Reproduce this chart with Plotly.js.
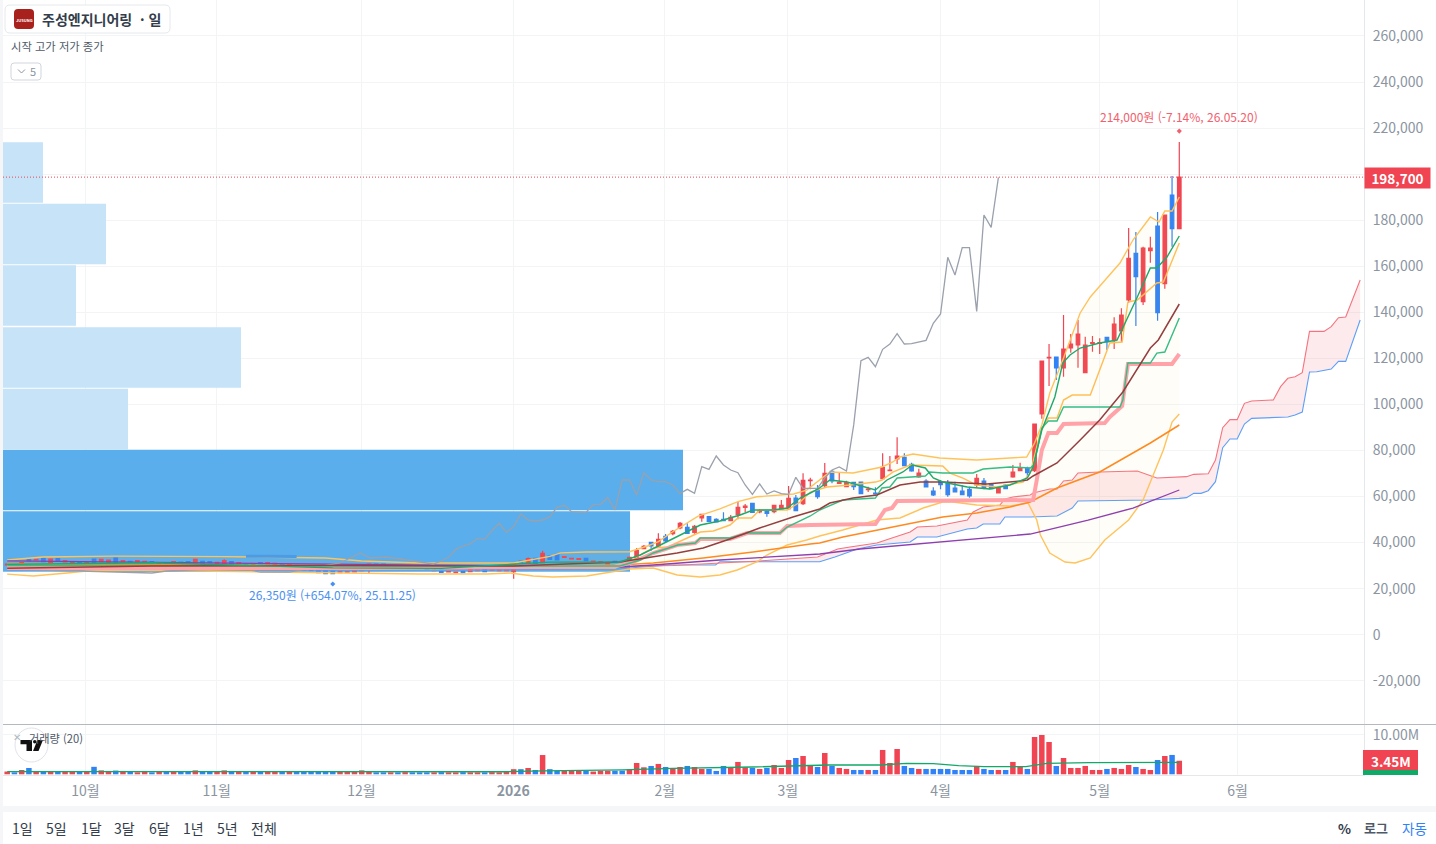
<!DOCTYPE html>
<html lang="ko">
<head>
<meta charset="utf-8">
<title>주성엔지니어링 · 일</title>
<script src="https://cdn.plot.ly/plotly-3.0.1.min.js"></script>
<style>html,body{margin:0;padding:0;background:#f5f6f8;overflow:hidden}#chart{width:1436px;height:844px}</style>
</head>
<body>
<div id="chart"></div>
<script>
// ---------- candles (index 0 = 2025-09, index 162 = 26.05.20), KRW ----------
const openPrices = [
30240,30680,30240,32850,32410,33280,31260,32990,31550,30680,
31550,31260,32850,31690,30970,33280,31550,31830,31830,31550,
31690,30390,31110,30970,31550,31690,30970,31830,31690,30680,
30970,31690,30680,30680,29520,31260,30680,30100,30680,30100,
30100,29520,29230,28070,27780,27640,26910,27060,27200,27780,
30100,30680,30680,29810,29810,29230,29520,29230,28940,27780,
28070,27200,26910,27780,27350,27780,28360,27930,27780,27780,
27350,31980,30970,33140,31260,34150,34870,33570,32850,32700,
33140,31690,31400,30240,31830,31830,
31700,32710,37340,40090,38500,42700,43860,46320,46610,44440,
50660,51240,50080,50080,49500,52110,55290,57030,53270,53700,
53410,54420,54720,59350,56890,66870,62820,
64700,70930,65720,64270,66150,66300,62970,61520,67740,71220,76290,77010,73970,68470,66730,62390,66440,66010,63690,62390,63110,64990,66730,65430,61520,64990,68470,71220,
72380,71220,95830,120150,120580,115810,124490,125800,113780,126520,126520,129130,127680,131880,145340,165600,144610,166760,177480,152430,190940,176320];
const closePrices = [
30680,30390,31260,32120,32700,31690,32850,31980,32120,31690,
30680,31550,31260,32700,32410,30970,32120,31400,32120,31830,
31260,31260,30240,31690,31260,31260,32700,30970,31260,31400,
32120,30240,31260,29520,30680,30680,31260,30970,29810,30390,
28940,28070,27780,26910,26480,26480,27350,27350,27780,30100,
30680,30240,29520,30100,29520,29520,29230,28940,28070,28070,
27060,27490,27200,26910,28360,28070,27350,28070,28070,28070,
30680,31260,32990,30970,35310,32700,32410,33860,33140,32990,
32120,31980,31690,31260,31550,31550,
33580,36470,38350,38500,41400,40670,44870,48340,44000,47040,
52250,49210,48920,49500,50950,55290,55870,53120,53700,52690,
56160,56160,59200,53850,67020,67170,59930,
70060,66730,66150,66010,64270,61230,63250,61080,72670,71510,77590,73390,71070,70200,64120,60650,65140,60800,61950,60800,60220,67890,63550,63400,63840,63400,70640,72520,
70350,91490,118850,120440,115810,124060,126230,130570,125800,126810,126810,127240,134920,138830,163430,155470,167920,167920,139840,182250,176320,198700];
const highPrices = [
30900,30900,31500,33000,32850,33500,33000,33300,32300,31900,
31700,31700,33000,32900,32600,33500,32300,32000,32300,32000,
31850,31500,31300,31900,31700,31850,32900,32000,31850,31600,
32700,31850,31450,30850,30850,31450,31450,31150,30850,30550,
30300,29700,29400,28250,27950,27800,27500,27500,28200,30300,
30850,30850,30850,30300,30000,29700,29700,29400,29100,28250,
28250,27650,27400,27950,28550,28250,28550,28250,28250,28250,
30850,32150,33500,33300,36470,34350,35050,33950,33300,33150,
33300,32150,31850,31450,32000,32000,
33870,37630,38930,40090,44000,43710,45450,48920,48340,47620,
52250,51530,50520,53120,51960,57610,56740,57180,54420,54140,
56450,58480,64560,60650,70060,68180,65000,
74550,71510,70350,66870,66440,66440,64270,63980,78750,77590,85700,78750,74690,72090,67450,63980,67160,67160,66440,64850,64270,69770,68030,65720,64560,65280,73680,74690,
72960,91490,118850,126230,120580,138830,130570,136650,129420,129700,128690,129130,137810,141720,176600,174870,168500,172840,183560,182250,199190,214000];
const lowPrices = [
30050,30200,30050,31800,32250,31500,31050,31800,31350,30500,
30500,31100,31050,31500,30800,30800,31350,31200,31650,31350,
31100,30200,30050,30800,31100,31100,30800,30800,31100,30500,
30800,30050,30500,29300,29300,30500,30500,29900,29600,29900,
28750,27900,27600,26750,26400,26350,26750,26900,27050,27600,
26600,30050,29300,29650,29300,29050,29050,28750,27900,27600,
26900,27050,26750,26750,27200,27600,27200,27750,27600,27600,
24300,31050,30800,30800,31050,32500,32200,33400,32700,32500,
31950,31500,31200,30050,31350,31350,
31400,32570,37050,36470,38210,39950,43130,45740,43710,43860,
49070,49070,48780,49360,49210,50080,53270,52980,52690,51240,
52690,54140,54140,53850,56310,63110,59060,
63980,65720,65430,63980,62820,61080,61950,60800,67450,70930,74110,73250,70780,68180,63980,60220,63110,59930,61810,60650,59490,63980,63110,63260,61370,63260,68180,71070,
68610,70640,93800,107990,110600,112040,122470,115950,113780,122900,121890,123620,124060,127240,144180,134050,143170,161550,136340,150260,168500,176320];
// volume, millions of shares
const volumeM = [
.7,.5,1.1,1.6,.7,.6,.7,.7,.7,.7,
.6,.7,1.9,1.0,.85,.95,.85,.6,.5,.85,
.5,.6,.6,.7,.6,.6,1.0,.7,.7,.7,
1.0,.85,.7,.7,.7,.7,.6,.7,.6,.6,
.6,.6,.6,.6,.6,.6,.6,.6,.7,1.0,
.7,.5,.5,.5,.5,.55,.5,.5,.5,.5,
.55,.5,.5,.55,.5,.5,.5,.55,.5,.6,
1.3,1.3,1.6,1.1,4.9,1.3,.9,.9,.9,.9,
.9,.7,.9,.9,.9,
.93,1.27,2.88,1.78,2.12,2.63,1.86,1.36,1.86,2.12,1.86,1.36,1.36,.85,2.12,1.78,3.14,1.78,1.61,1.36,1.61,2.37,1.61,3.64,4.15,4.66,2.37,1.86,5.42,2.12,1.61,1.36,1.1,1.1,1.1,1.1,6.19,2.88,6.44,2.12,1.61,1.36,1.36,1.36,1.36,1.36,1.1,1.1,1.1,2.12,1.36,1.1,1.1,1.1,3.14,1.86,1.36,9.49,10.0,8.22,2.12,4.15,1.61,1.61,2.12,1.1,1.1,1.36,1.61,1.36,2.37,1.86,1.36,1.1,3.64,4.66,4.92,3.45];
const volMaIdx = [0,25,50,69,74,80,85,92,99,103,113.5,120.7,124.3,128,131.5,135,140.8,143.7,149.5,162];
const volMaVal = [.7,.72,.68,.65,.85,1.0,1.1,1.5,1.7,1.86,2.37,2.37,2.8,2.7,2.2,1.95,1.95,2.8,2.97,3.05];

// ---------- indicators, read at knots (bar index, KRW) ----------
const bandUpperIdx = [0,5,15,30,44,49,57,70,75,76.5,80,86,88.5,90,92,95.5,98.5,101,103.6,106,108.7,110.5,112.3,113.7,116.9,120.9,122.4,123.4,125.2,128.9,134,139.5,140.9,142,143,144.1,145.9,148.3,149.7,153.8,155.6,158,159.2,160,161,162];
const bandUpperVal = [32400,33700,34100,33900,33300,32000,31100,31100,34000,35500,35900,36000,38500,40400,44700,51500,54600,57800,59900,60400,61100,62800,67180,70640,70200,72820,74980,77150,78450,76710,75850,76710,77150,83230,91050,104950,119280,139700,146640,161400,171390,181380,179200,183980,183980,190060];
const bandLowerIdx = [0,3.6,8.3,11,15.6,26.6,43.2,47.8,57,66.3,69.5,72.7,75.4,80.1,81.9,86,89.3,92.6,95.8,98.5,100.9,103.6,105,107.8,110.5,112.3,115.5,120.2,123.4,126.6,129.3,130.7,134,138.6,141.1,142.3,142.8,144.1,146.2,147.6,149.7,151.7,155,157,159.8,161,162];
const bandLowerVal = [26300,25470,26770,27640,28080,27640,26770,26770,26340,26340,26770,25470,25040,25470,26340,28510,28950,25910,25040,25910,28080,31550,34590,38930,41110,42840,45450,49790,50660,55000,57610,57610,56310,55870,57170,49790,43280,35460,31550,31120,33290,41110,49790,58480,80190,92350,95820];
const ochreIdx = [0,30,60,84,86,87.9,89.3,91.2,94,95.8,97.6,99.9,101,102.9,104,107.8,109.6,111,113.3,116.5,120,120.9,122.4,124.8,129.3,130.3,132.1,134,136.8,140.4,141.4,142.8,143.9,145.1,146,147.2,149.7,152.4,154.1,154.9,156.2,157.5,158.9,159.8,162];
const ochreVal = [30000,30000,29000,28900,31550,35460,37630,38060,41970,44580,45010,47610,50660,50660,54130,54130,57610,61930,64100,64970,66270,67140,70610,73650,73220,70180,68010,64970,64100,66270,70180,87980,94060,94060,101870,104060,104060,126660,127090,144470,145340,148810,152720,153150,170090];
const conversionIdx = [0,20,45,60,75,84.7,87.5,90.2,93,95.8,98.5,101.3,103.1,105.9,107.8,109.6,111,112.1,113.7,116.1,120,121.6,123.8,125.1,126.9,128,129.3,132.7,135.8,138.6,141,141.8,143,144.8,145.9,146.9,148.3,151,153.4,154.2,154.9,156.2,158,158.9,160.3,162];
const conversionVal = [30500,31200,29000,28800,31500,31550,34590,38930,43280,47620,49360,51960,54130,54130,55000,59340,61520,63260,67170,66300,62820,67170,70640,73680,72380,68030,66300,64120,63250,64990,68030,72810,88880,103200,117970,121440,124480,126650,127960,133600,137950,146640,159230,159230,164010,173130];
const baseGreenIdx = [0,40,84.7,87.5,89.3,92.7,95.1,95.8,99.9,102.3,106.8,107.8,111,112.3,115.5,120,120.9,122,123,126.9,127.5,129.3,133.5,134.9,138.6,141.4,141.9,143,143.9,145.1,146,153.8,154.2,154.9,158,158.9,160,162];
const baseGreenVal = [30000,30000,29810,32420,35460,38930,39800,41970,41970,44150,44150,46750,51530,54130,58480,59340,63690,64120,68030,68900,70640,70210,70210,71940,72810,72380,73680,89750,92790,92790,98870,98870,101910,117970,117970,122310,122750,137510];
const kijunIdx = [0,50,84,86.5,89.3,92.6,95.1,95.8,99.9,102.3,106.8,107.8,111,120,121.3,122.3,123,137.2,141.8,142.3,143,143.9,145.1,146,151.7,152.4,154.1,154.9,161,162];
const kijunVal = [28900,29000,29600,31550,35460,38930,39800,41540,41540,44150,44150,47190,47620,48050,54130,55000,58040,58480,58480,67170,80190,87570,87570,91480,91920,94520,99300,117540,117540,121880];
const brownIdx = [0,20,45,70,84.7,89.3,92.6,96.2,100.3,104,108.6,112.3,113.7,116.9,120.2,123.4,126.2,129.3,135.4,140,141,141.8,145.1,148.3,151,154.2,158,159.1,162];
const brownVal = [28800,29800,30000,29800,31550,33720,35460,37630,41970,46320,51090,54570,57170,59340,60650,65000,66300,66300,65430,66730,67170,68900,74550,84540,93220,105380,124490,127970,143600];
const orangeIdx = [0,40,70,84.7,89.3,96.2,103.1,111,112.3,115.5,120.2,124.8,129.3,134,138.6,141.4,145.1,151,155.6,158,162];
const orangeVal = [30800,30200,29500,30250,31120,33290,35890,39370,39800,42410,45450,48490,51090,52830,55440,57610,63690,70640,78890,83230,91050];
const purpleIdx = [0,30,60,84.7,89.3,98.5,112.3,117.9,141.4,149.4,155.6,162];
const purpleVal = [32000,31000,30000,29380,30250,32420,35020,37200,43710,49790,55000,62820];
const spanAIdx = [0,30,60,84,92,98,104,112,114.8,116.5,120.2,124.8,125.8,128.5,132.7,133.5,134.9,137.2,137.9,139,141.4,141.8,144.1,145.1,146,147.2,148,151,156.2,158.9,161.1,162,163,164,166,167,168,169,170,171,172,175,176,177,178,179,180,182,183,184,185,187];
const spanAVal = [29200,29500,29700,29500,30000,31000,32000,33700,37200,38070,39800,44580,46750,47180,49790,53270,55440,56310,58910,59780,60650,61520,63250,63250,66730,67170,70200,70640,71070,68030,68470,68610,68610,69620,69910,75850,89890,93370,93370,100460,101470,101910,107700,111320,112040,113780,131730,131730,133760,137670,137950,154020];
const spanBIdx = [0,30,60,84,91.6,97.9,98.5,112.3,114.4,117.5,120.2,124.8,125.8,128.5,132.7,134,134.9,137.2,137.9,141.4,145.1,147.2,148,158,162,163,164,165,166,167,168,169,170,171,172,175,177,178,179,180,181,183,184,185,187];
const spanBVal = [28000,27500,27900,28500,30250,30250,31670,31670,33700,37200,38930,40240,42410,42410,45880,46320,48050,48050,51090,51090,51530,55000,58040,58480,59200,59490,61370,61370,62530,66440,81200,84970,84970,91480,93940,94230,94520,95390,96690,114070,114210,115370,118700,118700,136650];
const laggingIdx = [0,17,20,22,32,35,39,43,46,48.8,50.2,52.5,55.3,58.9,60,61,62,63,64,65,66,67,68,69,70,71,72,73,74,75,76,77,78,79,80,81,82,83,84,85,86,87,88,89,90,91,92,93,94,95,96,97,98,99,100,101,102,103,104,105,106,107,108,109,110,111,112,113,114,115,116,117,118,119,120,121,122,123,124,125,126,127,128,129,130,131,132,133,134,135,136,137];
const laggingVal = [28500,27200,26770,27640,28950,27200,27200,29500,31120,35460,33290,33720,32420,30680,31990,33580,37050,38500,39370,41830,41400,45160,48340,44440,46900,52400,49790,49360,49790,51240,55290,56160,53410,53120,53120,56450,56600,59500,54140,67170,67170,60650,70350,67170,66440,66440,65000,61370,63110,61370,72960,71800,77590,73680,71510,70350,65000,60940,65430,61080,62390,61230,60940,68320,63550,63550,63550,68030,71510,72810,71070,91100,118990,120440,116390,123920,126230,130720,126230,126380,127100,127820,135200,139260,163870,156200,168070,168070,140420,182260,176900,198620];
const paleBlueIdx = [33,36,40];
const paleBlueVal = [34000,34100,33900];

// ---------- volume profile ----------
const profileCenters = [200710,174000,147290,120370,93660,67160,40450];
const profileVolume = [40,103,73,238,125,680,627];
const profileColors = ['#c6e3f8','#c6e3f8','#c6e3f8','#c6e3f8','#c6e3f8','#5aaeec','#5aaeec'];
const profileRowHeight = 26300;

// ---------- axis labels ----------
const priceTicks = [-20000,0,20000,40000,60000,80000,100000,120000,140000,160000,180000,200000,220000,240000,260000];
const priceTickText = ['-20,000','0','20,000','40,000','60,000','80,000','100,000','120,000','140,000','160,000','180,000','','220,000','240,000','260,000'];
const monthTicks = [10.8,28.95,48.95,69.95,90.9,107.9,129,151,170.05];
const monthLabels = ['10월','11월','12월','<b>2026</b>','2월','3월','4월','5월','6월'];
const periodLabels = ['1일','5일','1달','3달','6달','1년','5년','전체'];
const periodX = [22,56.5,91,124.5,159,194,227,264];
const lastPrice = 198700, lastVolume = 3.45;

// ---------- helpers ----------
const W = 1436, H = 844;
const FONT = '"Noto Sans CJK KR","Noto Sans",sans-serif';
const RED = '#f04452', BLUE = '#3182f6', GREY = '#8b95a1', GRID = '#f2f4f6';
const px = x => x / W, py = y => 1 - y / H;
const xRange = [-0.58, 187.53];

function line(xs, ys, color, width, extra) {
  return Object.assign({type:'scatter', mode:'lines', xaxis:'x2', yaxis:'y', x:xs, y:ys,
    line:{color:color, width:width}, hoverinfo:'skip', showlegend:false}, extra || {});
}
function roundRect(x0,y0,x1,y1,r,fill,stroke) {
  const X=px, Y=py;
  const d = `M${X(x0+r)},${Y(y0)} L${X(x1-r)},${Y(y0)} Q${X(x1)},${Y(y0)} ${X(x1)},${Y(y0+r)} L${X(x1)},${Y(y1-r)} Q${X(x1)},${Y(y1)} ${X(x1-r)},${Y(y1)} L${X(x0+r)},${Y(y1)} Q${X(x0)},${Y(y1)} ${X(x0)},${Y(y1-r)} L${X(x0)},${Y(y0+r)} Q${X(x0)},${Y(y0)} ${X(x0+r)},${Y(y0)} Z`;
  return {type:'path', xref:'paper', yref:'paper', path:d, fillcolor:fill, line:{color:stroke||fill, width:stroke?1:0}, layer:'above'};
}
function rect(x0,y0,x1,y1,fill,layer) {
  return {type:'rect', xref:'paper', yref:'paper', x0:px(x0), x1:px(x1), y0:py(y0), y1:py(y1), fillcolor:fill, line:{width:0}, layer:layer||'below'};
}
function txt(x,y,text,size,color,anchor,extra) {
  const a = anchor || 'left';
  return Object.assign({xref:'paper', yref:'paper', x:px(a === 'left' ? x - 2 : x), y:py(y), text:text, showarrow:false,
    xanchor:a, yanchor:'middle', font:{family:FONT, size:size, color:color}}, extra||{});
}

// ---------- traces ----------
const idx = openPrices.map((_, i) => i);
const traces = [
  {type:'bar', orientation:'h', xaxis:'x', yaxis:'y', x:profileVolume, y:profileCenters, width:profileRowHeight,
   marker:{color:profileColors, line:{width:0}}, hoverinfo:'skip', showlegend:false},
  {type:'candlestick', xaxis:'x2', yaxis:'y', x:idx, open:openPrices, high:highPrices, low:lowPrices, close:closePrices,
   whiskerwidth:0, increasing:{line:{color:RED,width:1.2}, fillcolor:RED}, decreasing:{line:{color:BLUE,width:1.2}, fillcolor:BLUE},
   hoverinfo:'skip', showlegend:false},
  line(spanBIdx, spanBVal, '#5c9ff7', 1.1),
  line(spanAIdx, spanAVal, '#f4737e', 1.1, {fill:'tonexty', fillcolor:'rgba(240,68,82,0.11)'}),
  line(bandLowerIdx, bandLowerVal, '#ffc35c', 1.4),
  line(bandUpperIdx, bandUpperVal, '#ffc35c', 1.4, {fill:'tonexty', fillcolor:'rgba(255,200,90,0.045)'}),
  line(ochreIdx, ochreVal, '#ffbe55', 1.4),
  line(purpleIdx, purpleVal, '#8e3fae', 1.3),
  line(orangeIdx, orangeVal, '#ff8a1f', 1.5),
  line(laggingIdx, laggingVal, '#9aa1ac', 1.3),
  line(paleBlueIdx, paleBlueVal, '#4b9be6', 3),
  line(kijunIdx, kijunVal, '#ffa3a9', 4),
  line(baseGreenIdx, baseGreenVal, '#35bd85', 1.4),
  line(brownIdx, brownVal, '#933f3f', 1.5),
  line(conversionIdx, conversionVal, '#1fa86e', 1.4),
  {type:'scatter', mode:'markers', xaxis:'x2', yaxis:'y', x:[162,45], y:[218700,22000],
   marker:{symbol:'diamond', size:4, color:['#f2606d','#4a90f0']}, hoverinfo:'skip', showlegend:false},
  {type:'bar', xaxis:'x3', yaxis:'y2', x:idx, y:volumeM, width:0.76,
   marker:{color:idx.map(i => closePrices[i] >= openPrices[i] ? RED : BLUE), line:{width:0}}, hoverinfo:'skip', showlegend:false},
  {type:'scatter', mode:'lines', xaxis:'x3', yaxis:'y2', x:volMaIdx, y:volMaVal,
   line:{color:'#12a86a', width:1.3}, hoverinfo:'skip', showlegend:false}
];

// ---------- layout ----------
const shapes = [
  rect(3,0,1436,806,'#ffffff'),
  rect(3,812,1436,844,'#ffffff'),
  {type:'line', xref:'paper', yref:'paper', x0:px(3), x1:1, y0:py(724.5), y1:py(724.5), line:{color:'#b4b8bf', width:1}, layer:'above'},
  {type:'line', xref:'paper', yref:'y', x0:px(3), x1:px(1364), y0:lastPrice, y1:lastPrice, line:{color:RED, width:1, dash:'1px,2px'}, layer:'above'},
  roundRect(5,5,170,33,5,'#ffffff','#e5e8eb'),
  roundRect(14,9,34,29,4,'#a8211c'),
  roundRect(11,63,41,80,3,'#ffffff','#d1d6db'),
  {type:'path', xref:'paper', yref:'paper', path:`M${px(18)},${py(69.5)} L${px(21.5)},${py(73)} L${px(25)},${py(69.5)}`, line:{color:'#8b95a1', width:1}, layer:'above'},
  {type:'circle', xref:'paper', yref:'paper', x0:px(15), x1:px(48), y0:py(728), y1:py(762), fillcolor:'rgba(255,255,255,0.85)', line:{color:'#dfe3ea', width:1}, layer:'above'},
  {type:'path', xref:'paper', yref:'paper', path:`M${px(20.5)},${py(740)} L${px(32)},${py(740)} L${px(32)},${py(751)} L${px(26.5)},${py(751)} L${px(26.5)},${py(744.3)} L${px(20.5)},${py(744.3)} Z`, fillcolor:'#111111', line:{width:0}, layer:'above'},
  {type:'path', xref:'paper', yref:'paper', path:`M${px(37.5)},${py(740)} L${px(43)},${py(740)} L${px(38.5)},${py(751)} L${px(33)},${py(751)} Z`, fillcolor:'#111111', line:{width:0}, layer:'above'},
  {type:'circle', xref:'paper', yref:'paper', x0:px(33), x1:px(36.6), y0:py(740), y1:py(743.6), fillcolor:'#111111', line:{width:0}, layer:'above'},
  rect(1363,750,1418,770,RED,'above'),
  rect(1363,770,1418,775,'#0fa968','above')
];
const annotations = [
  txt(42,19,'<b>주성엔지니어링  · 일</b>',14,'#333d4b'),
  txt(24,19.5,'<b>JUSUNG</b>',4,'#ffffff','center'),
  txt(11,46,'시작 고가 저가 종가',11.3,'#4e5968'),
  txt(30,71.5,'5',11,'#8b95a1'),
  txt(17,737,'✕',9.5,'#b0b8c1','center'),
  txt(29,738,'거래량 (20)',11.2,'#4e5968'),
  {xref:'x2', yref:'y', x:162, y:225200, text:'214,000원 (-7.14%, 26.05.20)', showarrow:false, xanchor:'center', yanchor:'middle', font:{family:FONT,size:12,color:'#f2606d'}},
  {xref:'x2', yref:'y', x:45, y:17500, text:'26,350원 (+654.07%, 25.11.25)', showarrow:false, xanchor:'center', yanchor:'middle', font:{family:FONT,size:12,color:'#4a90f0'}},
  {xref:'paper', yref:'y', x:px(1364), y:lastPrice-400, text:'<b>198,700</b>', showarrow:false, xanchor:'left', yanchor:'middle', align:'center', width:63, height:18, bgcolor:RED, borderpad:1, font:{family:FONT,size:13.5,color:'#ffffff'}},
  txt(1391,760.5,'<b>3.45M</b>',13.5,'#ffffff','center'),
  txt(1344,827.5,'<b>%</b>',13.5,'#333d4b','center'),
  txt(1375.5,827.5,'<b>로그</b>',13,'#4e5968','center'),
  txt(1414,827.5,'자동',13.5,BLUE,'center')
].concat(periodLabels.map((t,i) => txt(periodX[i],827.5,t,14,'#333d4b','center')));

const layout = {
  width:W, height:H, margin:{l:0,r:0,t:0,b:0,pad:0}, autosize:false,
  paper_bgcolor:'#f5f6f8', plot_bgcolor:'rgba(0,0,0,0)',
  showlegend:false, hovermode:false, dragmode:false, boxgap:0.3, barmode:'overlay',
  font:{family:FONT, size:14, color:GREY},
  // profile scale (hidden), drawn first so the time-based marks sit on top
  xaxis:{domain:[px(3),px(1364)], anchor:'y', range:[0,1361], visible:false, fixedrange:true},
  yaxis:{domain:[py(724),1], anchor:'x', side:'right', range:[-38805,275630], tickmode:'array', tickvals:priceTicks, ticktext:priceTickText,
         ticklabelstandoff:5, showgrid:true, gridcolor:GRID, gridwidth:1, zeroline:false, showline:true, linecolor:'#e5e8eb', linewidth:1,
         ticks:'', tickfont:{family:FONT,size:14,color:GREY}, fixedrange:true},
  xaxis2:{overlaying:'x', anchor:'y', side:'bottom', range:xRange, showticklabels:false, ticks:'', tickmode:'array', tickvals:monthTicks,
          showgrid:true, gridcolor:GRID, gridwidth:1, zeroline:false, rangeslider:{visible:false}, showline:false, fixedrange:true},
  xaxis3:{domain:[px(3),px(1364)], anchor:'y2', range:xRange, tickmode:'array', tickvals:monthTicks, ticktext:monthLabels, ticks:'', ticklabelstandoff:3,
          tickfont:{family:FONT,size:14,color:GREY}, showgrid:true, gridcolor:GRID, gridwidth:1, zeroline:false, showline:true, linecolor:'#e5e8eb', linewidth:1, fixedrange:true},
  yaxis2:{domain:[py(775),py(725)], anchor:'x3', side:'right', range:[-0.18,12.54], tickmode:'array', tickvals:[10], ticktext:['10.00M'], ticklabelstandoff:5,
          showgrid:true, gridcolor:GRID, zeroline:false, showline:true, linecolor:'#e5e8eb', linewidth:1, ticks:'', tickfont:{family:FONT,size:14,color:GREY}, fixedrange:true},
  shapes:shapes, annotations:annotations
};
Plotly.newPlot('chart', traces, layout, {displayModeBar:false, staticPlot:true, responsive:false});
</script>
</body>
</html>
